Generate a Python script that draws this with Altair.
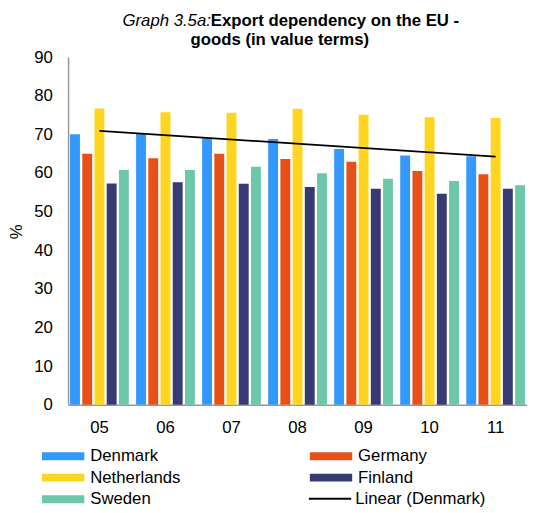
import altair as alt
import pandas as pd

years = ["05", "06", "07", "08", "09", "10", "11"]
countries = ["Denmark", "Germany", "Netherlands", "Finland", "Sweden"]
denmark = [70.0, 70.1, 69.0, 68.8, 66.2, 64.5, 64.3]
germany = [65.0, 63.8, 65.0, 63.6, 62.9, 60.5, 59.7]
netherlands = [76.7, 75.7, 75.6, 76.6, 75.1, 74.4, 74.2]
finland = [57.3, 57.6, 57.2, 56.4, 55.9, 54.6, 55.9]
sweden = [60.8, 60.8, 61.6, 59.9, 58.5, 57.9, 56.8]
colors = ["#3399FF", "#E8501A", "#FFD520", "#363B73", "#6DC8AA"]
trend_label = "Linear (Denmark)"
title_italic = "Graph 3.5a:"
title_bold_1 = "Export dependency on the EU -"
title_bold_2 = "goods (in value terms)"
y_ticks = [0, 10, 20, 30, 40, 50, 60, 70, 80, 90]

series = [denmark, germany, netherlands, finland, sweden]
rows = []
for c, vals in zip(countries, series):
    for y, v in zip(years, vals):
        rows.append({"year": y, "country": c, "value": v})
df = pd.DataFrame(rows)

FONT = "Liberation Sans"
RECT = "M-10.75,-2H10.75V2H-10.75Z"
LINE = "M-10.75,0H10.75"

bar_legend = alt.Legend(
    title=None, orient="none", legendX=-33, legendY=396.5, columns=2,
    direction="horizontal",
    columnPadding=124, rowPadding=4, labelFontSize=17, labelFont=FONT,
    labelColor="#000000", symbolType=RECT, symbolSize=16, symbolOffset=19.5,
    symbolStrokeWidth=0, labelOffset=19, labelLimit=300,
)
line_legend = alt.Legend(
    title=None, orient="none", legendX=238, legendY=440,
    labelFontSize=17, labelFont=FONT, labelColor="#000000",
    symbolType=LINE, symbolSize=16, symbolOffset=19.5, symbolStrokeWidth=2,
    labelOffset=17, labelLimit=300,
)

xscale = alt.Scale(domain=years, paddingInner=0.11, paddingOuter=0.03)
yscale = alt.Scale(domain=[0, 90], nice=False)

x_axis = alt.Axis(
    title=None, labelAngle=0, ticks=False, labelPadding=15,
    labelFontSize=17, labelFont=FONT, labelColor="#000000",
    domainColor="#999999", domainWidth=1.5)
y_axis = alt.Axis(
    title="%", values=y_ticks, ticks=False, labelPadding=16,
    labelOverlap=False, labelFontSize=17, labelFont=FONT,
    labelColor="#000000", grid=False,
    domainColor="#999999", domainWidth=1.5, titleFont=FONT,
    titleFontSize=17, titleFontWeight="normal", titleColor="#000000",
    titleX=-52, titleY=177, titleAngle=-90, titleAlign="center",
    titleBaseline="middle")

bars = alt.Chart(df).mark_bar().encode(
    x=alt.X("year:N", scale=xscale, sort=years, axis=x_axis),
    xOffset=alt.XOffset("country:N", sort=countries,
                        scale=alt.Scale(domain=countries, paddingInner=0.19, paddingOuter=0)),
    y=alt.Y("value:Q", scale=yscale, axis=y_axis),
    color=alt.Color("country:N", scale=alt.Scale(domain=countries, range=colors),
                    legend=bar_legend),
)

trend = alt.Chart(df).transform_filter(
    alt.datum.country == "Denmark"
).transform_calculate(
    n="toNumber(datum.year)"
).transform_regression(
    "n", "value", method="linear"
).transform_calculate(
    yr="(datum.n < 10 ? '0' : '') + format(datum.n, 'd')",
    lab=f"'{trend_label}'",
).mark_line(strokeWidth=1.8).encode(
    x=alt.X("yr:N", scale=xscale, sort=years, axis=x_axis),
    y=alt.Y("value:Q", scale=yscale, axis=y_axis),
    color=alt.Color("lab:N", scale=alt.Scale(domain=[trend_label], range=["#000000"]),
                    legend=line_legend),
)

def title_text(t, x, y, align, style, weight):
    return alt.Chart(pd.DataFrame({"t": [t]})).mark_text(
        align=align, baseline="middle", font=FONT, fontSize=17,
        fontStyle=style, fontWeight=weight, color="#000000"
    ).encode(text="t:N", x=alt.value(x), y=alt.value(y))

t1 = title_text(title_italic, 145, -37, "right", "italic", "normal")
t2 = title_text(title_bold_1, 145, -37, "left", "normal", "bold")
t3 = title_text(title_bold_2, 215, -17, "center", "normal", "bold")

chart = alt.layer(bars, trend, t1, t2, t3).resolve_scale(color="independent").properties(
    width=466, height=353,
    autosize=alt.AutoSizeParams(type="none"),
    padding={"left": 61, "top": 46, "right": 0, "bottom": 100},
).configure_view(stroke=None)

chart.save("out.html", embed_options={"renderer": "svg", "actions": False})
